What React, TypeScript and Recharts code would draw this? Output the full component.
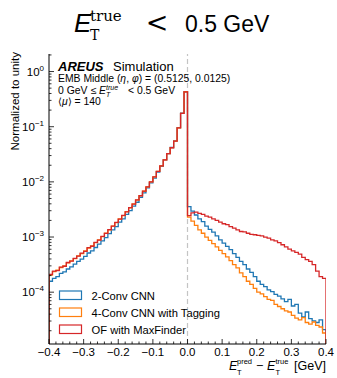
import { LineChart, Line, XAxis, YAxis, ReferenceLine } from "recharts";

// bin edges of the residual histogram, GeV
const BIN_EDGES = [
  -0.4, -0.39, -0.38, -0.37, -0.36, -0.35, -0.34, -0.33, -0.32, -0.31,
  -0.3, -0.29, -0.28, -0.27, -0.26, -0.25, -0.24, -0.23, -0.22, -0.21,
  -0.2, -0.19, -0.18, -0.17, -0.16, -0.15, -0.14, -0.13, -0.12, -0.11,
  -0.1, -0.09, -0.08, -0.07, -0.06, -0.05, -0.04, -0.03, -0.02, -0.01,
  0.0, 0.01, 0.02, 0.03, 0.04, 0.05, 0.06, 0.07, 0.08, 0.09,
  0.1, 0.11, 0.12, 0.13, 0.14, 0.15, 0.16, 0.17, 0.18, 0.19,
  0.2, 0.21, 0.22, 0.23, 0.24, 0.25, 0.26, 0.27, 0.28, 0.29,
  0.3, 0.31, 0.32, 0.33, 0.34, 0.35, 0.36, 0.37, 0.38, 0.39,
  0.4,
];

const CNN2 = [
  1.58e-4, 1.78e-4, 1.91e-4, 2.19e-4, 2.34e-4, 2.63e-4, 2.88e-4, 3.24e-4, 3.63e-4, 3.98e-4,
  4.47e-4, 5.13e-4, 5.62e-4, 6.46e-4, 7.41e-4, 8.51e-4, 9.77e-4, 1.15e-3, 1.35e-3, 1.55e-3,
  1.86e-3, 2.14e-3, 2.57e-3, 3.02e-3, 3.63e-3, 4.27e-3, 5.25e-3, 6.31e-3, 7.76e-3, 9.55e-3,
  1.17e-2, 1.51e-2, 1.91e-2, 2.5e-2, 3.24e-2, 4.2e-2, 5.55e-2, 9.6e-2, 0.176, 0.43,
  3.55e-3, 2.95e-3, 2.51e-3, 2.14e-3, 1.91e-3, 1.58e-3, 1.38e-3, 1.23e-3, 1.05e-3, 8.91e-4,
  7.76e-4, 6.76e-4, 5.89e-4, 5.01e-4, 4.27e-4, 3.63e-4, 3.16e-4, 2.63e-4, 2.29e-4, 1.91e-4,
  1.58e-4, 1.38e-4, 1.26e-4, 1.1e-4, 1.02e-4, 9.12e-5, 8.51e-5, 7.59e-5, 6.76e-5, 7.41e-5,
  5.62e-5, 6.03e-5, 4.17e-5, 3.55e-5, 4.37e-5, 3.31e-5, 3.02e-5, 2.82e-5, 3.16e-5, 2.09e-5,
];

const CNN4_TAGGING = [
  2.05e-4, 2.35e-4, 2.5e-4, 2.8e-4, 3.0e-4, 3.4e-4, 3.7e-4, 4.05e-4, 4.55e-4, 5.0e-4,
  5.6e-4, 6.3e-4, 6.9e-4, 7.9e-4, 8.9e-4, 1.02e-3, 1.17e-3, 1.35e-3, 1.58e-3, 1.82e-3,
  2.14e-3, 2.45e-3, 2.88e-3, 3.39e-3, 3.98e-3, 4.68e-3, 5.62e-3, 6.76e-3, 8.13e-3, 1.0e-2,
  1.23e-2, 1.55e-2, 1.95e-2, 2.51e-2, 3.24e-2, 4.17e-2, 5.5e-2, 9.55e-2, 0.175, 0.43,
  2.29e-3, 1.95e-3, 1.62e-3, 1.35e-3, 1.17e-3, 1.0e-3, 8.71e-4, 7.59e-4, 6.61e-4, 5.75e-4,
  5.01e-4, 4.37e-4, 3.72e-4, 3.16e-4, 2.75e-4, 2.24e-4, 1.91e-4, 1.58e-4, 1.38e-4, 1.17e-4,
  1.0e-4, 9.33e-5, 8.32e-5, 7.41e-5, 7.08e-5, 6.03e-5, 5.5e-5, 5.01e-5, 4.57e-5, 4.37e-5,
  3.8e-5, 3.39e-5, 3.16e-5, 3.47e-5, 2.82e-5, 2.63e-5, 2.88e-5, 2.51e-5, 2.34e-5, 1.82e-5,
];

const OF_MAXFINDER = [
  2.1e-4, 2.4e-4, 2.45e-4, 2.85e-4, 2.95e-4, 3.45e-4, 3.65e-4, 4.1e-4, 4.5e-4, 5.1e-4,
  5.5e-4, 6.4e-4, 6.8e-4, 8.0e-4, 8.8e-4, 1.03e-3, 1.16e-3, 1.36e-3, 1.57e-3, 1.84e-3,
  2.12e-3, 2.47e-3, 2.86e-3, 3.41e-3, 3.96e-3, 4.7e-3, 5.6e-3, 6.8e-3, 8.1e-3, 1.0e-2,
  1.23e-2, 1.55e-2, 1.95e-2, 2.5e-2, 3.25e-2, 4.15e-2, 5.5e-2, 9.5e-2, 0.174, 0.427,
  2.45e-3, 2.75e-3, 2.82e-3, 2.69e-3, 2.57e-3, 2.4e-3, 2.29e-3, 2.14e-3, 2.0e-3, 1.86e-3,
  1.74e-3, 1.68e-3, 1.55e-3, 1.45e-3, 1.35e-3, 1.26e-3, 1.24e-3, 1.17e-3, 1.12e-3, 1.1e-3,
  1.07e-3, 1.05e-3, 1.0e-3, 9.55e-4, 8.91e-4, 8.51e-4, 7.94e-4, 7.24e-4, 6.61e-4, 6.03e-4,
  5.62e-4, 5.25e-4, 4.9e-4, 4.27e-4, 3.89e-4, 3.63e-4, 3.16e-4, 2.4e-4, 1.91e-4, 1.78e-4,
];

// histogram baseline, below the visible y range
const FLOOR = 1e-9;

const SERIES = [
  { key: "cnn2", label: "2-Conv CNN", color: "#1f77b4", values: CNN2 },
  { key: "cnn4", label: "4-Conv CNN with Tagging", color: "#ff7f0e", values: CNN4_TAGGING },
  { key: "of", label: "OF with MaxFinder", color: "#d62728", values: OF_MAXFINDER },
];

const X_MAJOR = [-0.4, -0.3, -0.2, -0.1, 0.0, 0.1, 0.2, 0.3, 0.4];
const X_LABELS = ["−0.4", "−0.3", "−0.2", "−0.1", "0.0", "0.1", "0.2", "0.3", "0.4"];
const X_MINOR = [
  -0.38, -0.36, -0.34, -0.32, -0.28, -0.26, -0.24, -0.22, -0.18, -0.16, -0.14, -0.12,
  -0.08, -0.06, -0.04, -0.02, 0.02, 0.04, 0.06, 0.08, 0.12, 0.14, 0.16, 0.18,
  0.22, 0.24, 0.26, 0.28, 0.32, 0.34, 0.36, 0.38,
];
const Y_MAJOR = [1e-4, 1e-3, 1e-2, 1e-1, 1];
const Y_EXPONENTS = ["−4", "−3", "−2", "−1", "0"];
const Y_MINOR = [
  2e-5, 3e-5, 4e-5, 5e-5, 6e-5, 7e-5, 8e-5, 9e-5,
  2e-4, 3e-4, 4e-4, 5e-4, 6e-4, 7e-4, 8e-4, 9e-4,
  2e-3, 3e-3, 4e-3, 5e-3, 6e-3, 7e-3, 8e-3, 9e-3,
  2e-2, 3e-2, 4e-2, 5e-2, 6e-2, 7e-2, 8e-2, 9e-2,
  0.2, 0.3, 0.4, 0.5, 0.6, 0.7, 0.8, 0.9, 2,
];
const X_DOMAIN = [-0.4, 0.4];
const Y_DOMAIN = [1.15e-5, 2.08];

const SANS = "'Liberation Sans', Arial, Helvetica, sans-serif";
const SERIF = "'DejaVu Serif', 'Liberation Serif', serif";

function stepRow(x: number, pick: (vals: number[]) => number) {
  const row: Record<string, number> = { x };
  SERIES.forEach((s) => (row[s.key] = pick(s.values)));
  return row;
}

// step histogram: drop to the floor at both outer edges
const chartData = [
  stepRow(BIN_EDGES[0], () => FLOOR),
  ...BIN_EDGES.map((x, i) => stepRow(x, (v) => v[Math.min(i, v.length - 1)])),
  stepRow(BIN_EDGES[BIN_EDGES.length - 1], () => FLOOR),
];

const xMajorIndex = (v: number) => X_MAJOR.findIndex((m) => Math.abs(m - v) < 1e-6);
const yMajorIndex = (v: number) => Y_MAJOR.findIndex((m) => Math.abs(m - v) < 1e-6 * m);

function BottomTick({ x, y, payload }: any) {
  const i = xMajorIndex(payload.value);
  return (
    <g>
      <line x1={x} x2={x} y1={y} y2={y - (i >= 0 ? 5 : 2.5)} stroke="#000" strokeWidth={0.8} />
      {i >= 0 && (
        <text x={x} y={y + 12} textAnchor="middle" fontSize={11.5} fontFamily={SANS} fill="#000">
          {X_LABELS[i]}
        </text>
      )}
    </g>
  );
}

function TopTick({ x, y, payload }: any) {
  const i = xMajorIndex(payload.value);
  return <line x1={x} x2={x} y1={y} y2={y + (i >= 0 ? 5 : 2.5)} stroke="#000" strokeWidth={0.8} />;
}

function LeftTick({ x, y, payload }: any) {
  const i = yMajorIndex(payload.value);
  return (
    <g>
      <line x1={x} x2={x + (i >= 0 ? 5 : 2.5)} y1={y} y2={y} stroke="#000" strokeWidth={0.8} />
      {i >= 0 && (
        <text x={x - 5} y={y + 4} textAnchor="end" fontSize={11.5} fontFamily={SANS} fill="#000">
          10
          <tspan dy={-5} fontSize={8}>
            {Y_EXPONENTS[i]}
          </tspan>
        </text>
      )}
    </g>
  );
}

function RightTick({ x, y, payload }: any) {
  const i = yMajorIndex(payload.value);
  return <line x1={x} x2={x - (i >= 0 ? 5 : 2.5)} y1={y} y2={y} stroke="#000" strokeWidth={0.8} />;
}

function Overlay() {
  return (
    <svg
      width={337}
      height={378}
      style={{ position: "absolute", left: 0, top: 0, pointerEvents: "none" }}
    >
      {/* title */}
      <text x={74} y={32} fontSize={26} fontStyle="italic" fontFamily={SANS}>E</text>
      <text x={90} y={20.5} fontSize={15} fontFamily={SERIF}>true</text>
      <text x={90} y={40} fontSize={14} fontFamily={SERIF}>T</text>
      <text x={157} y={32} fontSize={27} textAnchor="middle" fontFamily={SERIF}>&lt;</text>
      <text x={185} y={32} fontSize={23} fontFamily={SANS}>0.5 GeV</text>

      {/* annotations */}
      <text x={58} y={70.5} fontSize={13} fontWeight="bold" fontStyle="italic" fontFamily={SANS}>AREUS</text>
      <text x={113} y={70.5} fontSize={13} fontFamily={SANS}>Simulation</text>
      <text x={58} y={81.5} fontSize={10.4} fontFamily={SANS}>
        EMB Middle (<tspan fontStyle="italic">η</tspan>, <tspan fontStyle="italic">φ</tspan>) = (0.5125, 0.0125)
      </text>
      <text x={58} y={93.5} fontSize={10.4} fontFamily={SANS}>0 GeV</text>
      <text x={91} y={93.5} fontSize={10.4} fontFamily={SANS}>≤</text>
      <text x={99} y={93.5} fontSize={10.4} fontStyle="italic" fontFamily={SANS}>E</text>
      <text x={106} y={89.5} fontSize={7} fontStyle="italic" fontFamily={SANS}>true</text>
      <text x={106} y={96.5} fontSize={7} fontStyle="italic" fontFamily={SANS}>T</text>
      <text x={128} y={93.5} fontSize={10.4} fontFamily={SANS}>&lt; 0.5 GeV</text>
      <text x={58} y={105} fontSize={10.4} fontFamily={SANS}>
        ⟨<tspan fontStyle="italic">μ</tspan>⟩ = 140
      </text>

      {/* legend */}
      {SERIES.map((s, i) => (
        <g key={s.key}>
          <rect x={59.5} y={291 + i * 17} width={22} height={8.5} fill="none" stroke={s.color} strokeWidth={1.2} />
          <text x={91.5} y={299.5 + i * 17} fontSize={11.2} fontFamily={SANS}>{s.label}</text>
        </g>
      ))}

      {/* axis titles */}
      <text transform="rotate(-90)" x={-52} y={19} textAnchor="end" fontSize={11.5} fontFamily={SANS}>
        Normalized to unity
      </text>
      <text x={229} y={370} fontSize={12.5} fontStyle="italic" fontFamily={SANS}>E</text>
      <text x={237} y={364} fontSize={7.5} fontFamily={SANS}>pred</text>
      <text x={237} y={375} fontSize={7.5} fontFamily={SANS}>T</text>
      <text x={256} y={370} fontSize={12.5} fontFamily={SANS}>−</text>
      <text x={267} y={370} fontSize={12.5} fontStyle="italic" fontFamily={SANS}>E</text>
      <text x={275.5} y={364} fontSize={7.5} fontFamily={SANS}>true</text>
      <text x={275.5} y={375} fontSize={7.5} fontFamily={SANS}>T</text>
      <text x={326} y={370} fontSize={12.5} textAnchor="end" fontFamily={SANS}>[GeV]</text>
    </svg>
  );
}

export default function App() {
  return (
    <div style={{ position: "absolute", left: 0, top: 0, width: 337, height: 378, background: "#fff" }}>
      <LineChart
        width={337}
        height={378}
        data={chartData}
        margin={{ top: 54, right: 11, bottom: 0, left: 0 }}
      >
        <XAxis
          dataKey="x"
          type="number"
          domain={X_DOMAIN}
          allowDataOverflow
          ticks={[...X_MAJOR, ...X_MINOR]}
          interval={0}
          tickSize={0}
          tickMargin={0}
          tickLine={false}
          axisLine={{ stroke: "#000", strokeWidth: 1 }}
          tick={<BottomTick />}
          height={34}
        />
        <XAxis
          xAxisId="top"
          orientation="top"
          dataKey="x"
          type="number"
          domain={X_DOMAIN}
          allowDataOverflow
          ticks={[...X_MAJOR, ...X_MINOR]}
          interval={0}
          tickSize={0}
          tickMargin={0}
          tickLine={false}
          axisLine={{ stroke: "#000", strokeWidth: 1 }}
          tick={<TopTick />}
          height={0}
        />
        <YAxis
          type="number"
          scale="log"
          domain={Y_DOMAIN}
          allowDataOverflow
          ticks={[...Y_MAJOR, ...Y_MINOR]}
          interval={0}
          tickSize={0}
          tickMargin={0}
          tickLine={false}
          axisLine={{ stroke: "#000", strokeWidth: 1 }}
          tick={<LeftTick />}
          width={49}
        />
        <YAxis
          yAxisId="right"
          orientation="right"
          type="number"
          scale="log"
          domain={Y_DOMAIN}
          allowDataOverflow
          ticks={[...Y_MAJOR, ...Y_MINOR]}
          interval={0}
          tickSize={0}
          tickMargin={0}
          tickLine={false}
          axisLine={{ stroke: "#000", strokeWidth: 1 }}
          tick={<RightTick />}
          width={0}
        />
        <ReferenceLine x={0} stroke="#c4c4c4" strokeWidth={1.2} strokeDasharray="5 3" />
        {SERIES.map((s) => (
          <Line
            key={s.key}
            dataKey={s.key}
            type="stepAfter"
            stroke={s.color}
            strokeWidth={1.3}
            dot={false}
            activeDot={false}
            isAnimationActive={false}
          />
        ))}
      </LineChart>
      <Overlay />
    </div>
  );
}
